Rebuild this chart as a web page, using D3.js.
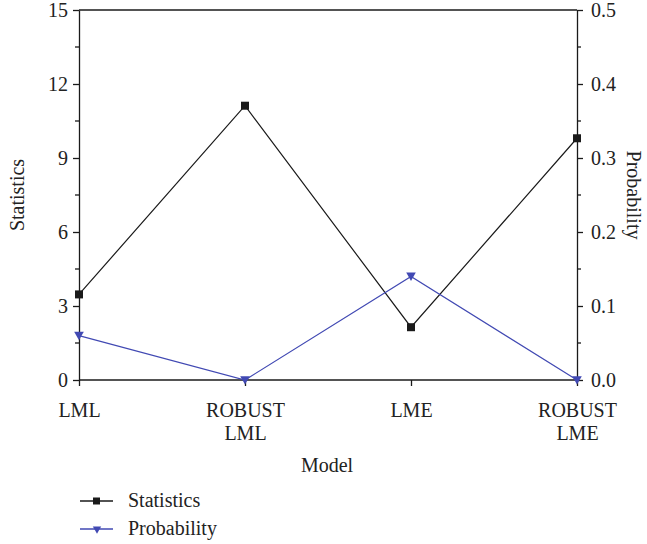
<!DOCTYPE html>
<html>
<head>
<meta charset="utf-8">
<script src="https://cdn.jsdelivr.net/npm/d3@7"></script>
<style>
  html, body { margin: 0; padding: 0; background: #fff; }
  svg { display: block; }
  text { font-family: "Liberation Serif", "DejaVu Serif", serif; fill: #222; }
</style>
</head>
<body>
<svg id="chart" width="647" height="544"></svg>
<script>
// Model categories (two-line labels)
const models = ["LML", "ROBUST LML", "LME", "ROBUST LME"];
const modelLabels = [["LML"], ["ROBUST", "LML"], ["LME"], ["ROBUST", "LME"]];
// Test statistics per model (left axis)
const statistics = [3.47, 11.12, 2.14, 9.8];
// Probability per model (right axis)
const probability = [0.06, 0.0, 0.14, 0.0];
// Axis ticks
const leftTicks = [0, 3, 6, 9, 12, 15];
const rightTicks = [0, 0.1, 0.2, 0.3, 0.4, 0.5];

const svg = d3.select("#chart");
const m = { left: 79, right: 577, top: 10, bottom: 380 };
const black = "#1a1a1a", blue = "#4149b3";
const fs = 20;

const x = d3.scalePoint().domain(models).range([m.left, m.right]);
const yL = d3.scaleLinear().domain([0, 15]).range([m.bottom, m.top]);
const yR = d3.scaleLinear().domain([0, 0.5]).range([m.bottom, m.top]);

// Frame top line
svg.append("line").attr("x1", m.left).attr("x2", m.right)
  .attr("y1", m.top).attr("y2", m.top).attr("stroke", black).attr("stroke-width", 1.3);

function styleAxis(g) {
  g.selectAll(".domain").attr("stroke", black).attr("stroke-width", 1.3);
  g.selectAll(".tick line").attr("stroke", black).attr("stroke-width", 1.3);
  g.selectAll("text").attr("font-size", fs).attr("fill", "#222");
}

// Minor ticks on both y axes
const minorL = d3.range(1.5, 15, 3);
const minorR = d3.range(0.05, 0.5, 0.1);

const gL = svg.append("g").attr("transform", `translate(${m.left},0)`)
  .call(d3.axisLeft(yL).tickValues(leftTicks).tickSize(6).tickSizeOuter(0).tickPadding(5)
    .tickFormat(d3.format("d")));
styleAxis(gL);
gL.selectAll(".minor").data(minorL).enter().append("line")
  .attr("x1", -4).attr("x2", 0).attr("y1", d => yL(d)).attr("y2", d => yL(d))
  .attr("stroke", black).attr("stroke-width", 1.3);

const gR = svg.append("g").attr("transform", `translate(${m.right},0)`)
  .call(d3.axisRight(yR).tickValues(rightTicks).tickSize(6).tickSizeOuter(0).tickPadding(8)
    .tickFormat(d3.format(".1f")));
styleAxis(gR);
gR.selectAll(".minor").data(minorR).enter().append("line")
  .attr("x1", 0).attr("x2", 4).attr("y1", d => yR(d)).attr("y2", d => yR(d))
  .attr("stroke", black).attr("stroke-width", 1.3);

const gX = svg.append("g").attr("transform", `translate(0,${m.bottom})`)
  .call(d3.axisBottom(x).tickSize(6).tickSizeOuter(0).tickFormat(""));
styleAxis(gX);
gX.select(".domain").attr("d", `M${m.left},0H${m.right}`);
gX.selectAll(".tick").each(function(d, i) {
  const t = d3.select(this).append("text").attr("text-anchor", "middle")
    .attr("font-size", fs).attr("fill", "#222");
  modelLabels[i].forEach((s, k) => {
    t.append("tspan").attr("x", 0).attr("y", 37 + k * 23).text(s);
  });
});

// Axis titles
svg.append("text").attr("x", 327).attr("y", 472).attr("text-anchor", "middle")
  .attr("font-size", fs).text("Model");
svg.append("text").attr("transform", `translate(24,${(m.top + m.bottom) / 2}) rotate(-90)`)
  .attr("text-anchor", "middle").attr("font-size", fs).text("Statistics");
svg.append("text").attr("transform", `translate(627,${(m.top + m.bottom) / 2}) rotate(90)`)
  .attr("text-anchor", "middle").attr("font-size", fs).text("Probability");

// Statistics series
const lineS = d3.line().x((d, i) => x(models[i])).y(d => yL(d));
svg.append("path").datum(statistics).attr("d", lineS)
  .attr("fill", "none").attr("stroke", black).attr("stroke-width", 1.2);
const sq = 8;
svg.selectAll(".sq").data(statistics).enter().append("rect")
  .attr("x", (d, i) => x(models[i]) - sq / 2).attr("y", d => yL(d) - sq / 2)
  .attr("width", sq).attr("height", sq).attr("fill", black);

// Probability series
const lineP = d3.line().x((d, i) => x(models[i])).y(d => yR(d));
svg.append("path").datum(probability).attr("d", lineP)
  .attr("fill", "none").attr("stroke", blue).attr("stroke-width", 1.2);
const tri = d3.symbol().type(d3.symbolTriangle).size(40);
svg.selectAll(".tri").data(probability).enter().append("path")
  .attr("d", tri)
  .attr("transform", (d, i) => `translate(${x(models[i])},${yR(d) - 1}) rotate(180)`)
  .attr("fill", blue);

// Legend
const legend = [
  { name: "Statistics", color: black, shape: "square" },
  { name: "Probability", color: blue, shape: "tri" }
];
legend.forEach((L, i) => {
  const y = 501 + i * 28;
  const g = svg.append("g");
  g.append("line").attr("x1", 80).attr("x2", 113).attr("y1", y).attr("y2", y)
    .attr("stroke", L.color).attr("stroke-width", 1.3);
  if (L.shape === "square") {
    g.append("rect").attr("x", 96.5 - 3.5).attr("y", y - 3.5).attr("width", 7).attr("height", 7)
      .attr("fill", L.color);
  } else {
    g.append("path").attr("d", d3.symbol().type(d3.symbolTriangle).size(30))
      .attr("transform", `translate(97,${y}) rotate(180)`).attr("fill", L.color);
  }
  g.append("text").attr("x", 128).attr("y", y + 6).attr("font-size", fs).text(L.name);
});
</script>
</body>
</html>
